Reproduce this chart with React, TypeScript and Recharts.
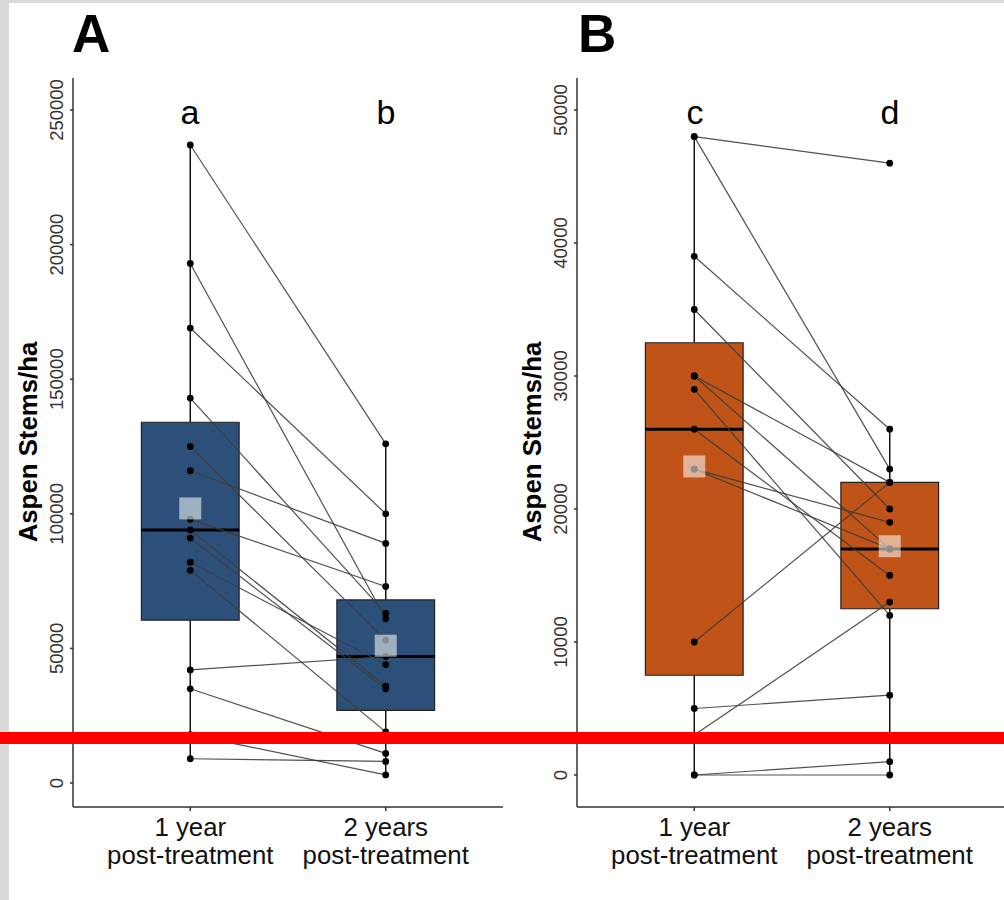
import React from 'react';
import {
  ComposedChart,
  Line,
  ReferenceArea,
  ReferenceLine,
  Scatter,
  XAxis,
  YAxis,
} from 'recharts';

const FONT = '"Liberation Sans", Arial, Helvetica, sans-serif';

const categories = [1, 2];
const categoryLines = [
  ['1 year', 'post-treatment'],
  ['2 years', 'post-treatment'],
];

// Panel A: stems/ha per plot, paired by index (1 yr -> 2 yrs)
const stemsA1 = [237000, 193000, 169000, 143000, 125000, 116000, 98000, 94000, 91000, 82000, 79000, 42000, 35000, 18000, 9000];
const stemsA2 = [126000, 61000, 100000, 63000, 53000, 89000, 73000, 36000, 35000, 44000, 19000, 47000, 11000, 3000, 8000];
const q1A = [60500, 27000];
const medianA = [94000, 47000];
const q3A = [134000, 68000];
const lowA = [9000, 3000];
const highA = [237000, 126000];
const meanA = [102000, 51000];
const ticksA = [0, 50000, 100000, 150000, 200000, 250000];

// Panel B
const stemsB1 = [48000, 48000, 39000, 35000, 30000, 30000, 29000, 26000, 23000, 23000, 10000, 5000, 3000, 0, 0];
const stemsB2 = [46000, 23000, 26000, 20000, 22000, 17000, 12000, 15000, 19000, 17000, 22000, 6000, 13000, 1000, 0];
const q1B = [7500, 12500];
const medianB = [26000, 17000];
const q3B = [32500, 22000];
const lowB = [0, 0];
const highB = [48000, 26000];
const meanB = [23200, 17200];
const ticksB = [0, 10000, 20000, 30000, 40000, 50000];

const BLUE = '#2c5079';
const RUST = '#bf5318';

function YTick({ x, y, payload }: any) {
  return (
    <text
      transform={`translate(${x},${y}) rotate(-90)`}
      textAnchor="middle"
      fontSize={18.5}
      fill="#333"
      fontFamily={FONT}
    >
      {payload.value}
    </text>
  );
}

function XTick({ x, y, payload }: any) {
  const lines = categoryLines[payload.value - 1] || [];
  return (
    <text textAnchor="middle" fontSize={25.8} fill="#111" fontFamily={FONT}>
      <tspan x={x} y={y + 23}>{lines[0]}</tspan>
      <tspan x={x} y={y + 51}>{lines[1]}</tspan>
    </text>
  );
}

function Dot({ cx, cy }: any) {
  return <circle cx={cx} cy={cy} r={3.4} fill="#000" />;
}

function MeanSquare({ cx, cy }: any) {
  return <rect x={cx - 11} y={cy - 11} width={22} height={22} fill="#fff" fillOpacity={0.55} />;
}

function Panel({
  left,
  y1,
  y2,
  q1,
  median,
  q3,
  low,
  high,
  mean,
  ticks,
  domain,
  fill,
}: any) {
  const pairs = y1.map((v: number, i: number) => [
    { x: 1, y: v },
    { x: 2, y: y2[i] },
  ]);
  const points = [
    ...y1.map((y: number) => ({ x: 1, y })),
    ...y2.map((y: number) => ({ x: 2, y })),
  ];
  const means = categories.map((c, i) => ({ x: c, y: mean[i] }));

  return (
    <div style={{ position: 'absolute', left, top: 0 }}>
      <ComposedChart width={510} height={900} margin={{ top: 78, right: 7, left: 13, bottom: 43 }}>
        <XAxis
          type="number"
          dataKey="x"
          domain={[0.4, 2.6]}
          ticks={categories}
          allowDataOverflow
          height={50}
          tickSize={4}
          tickMargin={2}
          tick={<XTick />}
          axisLine={{ stroke: '#333', strokeWidth: 1.5 }}
          tickLine={{ stroke: '#333', strokeWidth: 1.5 }}
        />
        <YAxis
          type="number"
          dataKey="y"
          domain={domain}
          ticks={ticks}
          allowDataOverflow
          width={60}
          tickSize={3}
          tickMargin={7}
          tick={<YTick />}
          axisLine={{ stroke: '#333', strokeWidth: 1.5 }}
          tickLine={{ stroke: '#333', strokeWidth: 1.5 }}
        />
        {categories.map((c, i) => (
          <ReferenceLine
            key={`wl${c}`}
            segment={[{ x: c, y: low[i] }, { x: c, y: q1[i] }]}
            stroke="#111"
            strokeWidth={1.5}
            zIndex={40}
          />
        ))}
        {categories.map((c, i) => (
          <ReferenceLine
            key={`wh${c}`}
            segment={[{ x: c, y: q3[i] }, { x: c, y: high[i] }]}
            stroke="#111"
            strokeWidth={1.5}
            zIndex={40}
          />
        ))}
        {categories.map((c, i) => (
          <ReferenceArea
            key={`box${c}`}
            x1={c - 0.25}
            x2={c + 0.25}
            y1={q1[i]}
            y2={q3[i]}
            fill={fill}
            fillOpacity={1}
            stroke="#222"
            strokeWidth={1.2}
            zIndex={50}
          />
        ))}
        {categories.map((c, i) => (
          <ReferenceLine
            key={`med${c}`}
            segment={[{ x: c - 0.25, y: median[i] }, { x: c + 0.25, y: median[i] }]}
            stroke="#000"
            strokeWidth={3}
            zIndex={60}
          />
        ))}
        {pairs.map((p: any, i: number) => (
          <Line
            key={`pair${i}`}
            data={p}
            dataKey="y"
            type="linear"
            stroke="#3d3d3d"
            strokeOpacity={0.9}
            strokeWidth={1.2}
            dot={false}
            activeDot={false}
            isAnimationActive={false}
            zIndex={400}
          />
        ))}
        <Scatter data={points} dataKey="y" shape={<Dot />} isAnimationActive={false} zIndex={600} />
        <Scatter data={means} dataKey="y" shape={<MeanSquare />} isAnimationActive={false} zIndex={700} />
      </ComposedChart>
    </div>
  );
}

export default function App() {
  const text = { fontFamily: FONT };
  return (
    <div
      style={{
        position: 'absolute',
        left: 0,
        top: 0,
        width: 1004,
        height: 900,
        overflow: 'hidden',
        background: '#d9d9d9',
      }}
    >
      <div style={{ position: 'absolute', left: 9, top: 3, right: 0, bottom: 0, background: '#fff' }} />
      <Panel
        left={0}
        y1={stemsA1}
        y2={stemsA2}
        q1={q1A}
        median={medianA}
        q3={q3A}
        low={lowA}
        high={highA}
        mean={meanA}
        ticks={ticksA}
        domain={[-8915, 261887]}
        fill={BLUE}
      />
      <Panel
        left={504}
        y1={stemsB1}
        y2={stemsB2}
        q1={q1B}
        median={medianB}
        q3={q3B}
        low={lowB}
        high={highB}
        mean={meanB}
        ticks={ticksB}
        domain={[-2406, 52406]}
        fill={RUST}
      />
      <svg
        width={1004}
        height={900}
        style={{ position: 'absolute', left: 0, top: 0, pointerEvents: 'none' }}
      >
        <text x={72} y={52} fontSize={53} fontWeight="bold" {...text}>A</text>
        <text x={578} y={52} fontSize={53} fontWeight="bold" {...text}>B</text>
        <text x={190} y={124} fontSize={34} textAnchor="middle" {...text}>a</text>
        <text x={386} y={124} fontSize={34} textAnchor="middle" {...text}>b</text>
        <text x={695} y={124} fontSize={34} textAnchor="middle" {...text}>c</text>
        <text x={890} y={124} fontSize={34} textAnchor="middle" {...text}>d</text>
        <text
          transform="translate(37,442) rotate(-90)"
          textAnchor="middle"
          fontSize={25.8}
          fontWeight="bold"
          {...text}
        >
          Aspen Stems/ha
        </text>
        <text
          transform="translate(541,442) rotate(-90)"
          textAnchor="middle"
          fontSize={25.8}
          fontWeight="bold"
          {...text}
        >
          Aspen Stems/ha
        </text>
        <rect x={0} y={732} width={1004} height={12} fill="#ff0000" />
      </svg>
    </div>
  );
}
